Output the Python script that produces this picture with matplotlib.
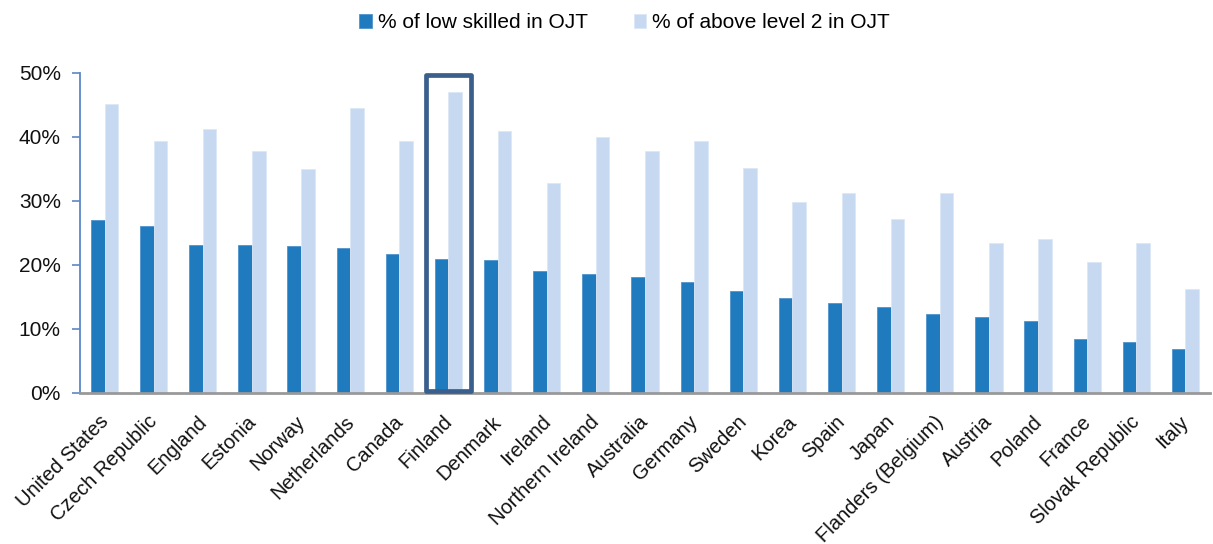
import numpy as np
import matplotlib.pyplot as plt
from matplotlib.patches import Rectangle
from matplotlib.ticker import PercentFormatter
from matplotlib.transforms import ScaledTranslation

plt.rcParams['font.family'] = ['Liberation Sans', 'DejaVu Sans']

countries = ["United States", "Czech Republic", "England", "Estonia", "Norway",
             "Netherlands", "Canada", "Finland", "Denmark", "Ireland",
             "Northern Ireland", "Australia", "Germany", "Sweden", "Korea",
             "Spain", "Japan", "Flanders (Belgium)", "Austria", "Poland",
             "France", "Slovak Republic", "Italy"]
low_skilled = [27.1, 26.1, 23.2, 23.2, 22.9, 22.6, 21.7, 20.9, 20.8, 19.1,
               18.6, 18.2, 17.4, 16.0, 14.9, 14.1, 13.5, 12.3, 11.8, 11.2,
               8.4, 7.9, 6.8]
above_level2 = [45.2, 39.4, 41.2, 37.8, 35.0, 44.6, 39.4, 47.0, 41.0, 32.8,
                40.0, 37.8, 39.3, 35.2, 29.8, 31.2, 27.2, 31.2, 23.5, 24.0,
                20.4, 23.5, 16.3]
highlight = "Finland"

dark = "#1f7bbe"
light = "#c6d9f0"

fig = plt.figure(figsize=(12.13, 5.44), dpi=100)
ax = fig.add_axes([80/1213, 1 - 393/544, 1130/1213, 320/544])

x = np.arange(len(countries))
w = 0.277
ax.bar(x - w/2, low_skilled, w, color=dark, edgecolor="#4f95cf", linewidth=0.6,
       label="% of low skilled in OJT")
ax.bar(x + w/2, above_level2, w, color=light, edgecolor="#dde8f6", linewidth=0.6,
       label="% of above level 2 in OJT")

i = countries.index(highlight)
ax.add_patch(Rectangle((i - 0.45, 0.25), 0.9, 49.45, fill=False,
                       edgecolor="#3b5f8c", linewidth=3.4, clip_on=False,
                       joinstyle="round", zorder=5))

ax.set_xlim(-0.5, len(countries) - 0.5)
ax.set_ylim(0, 50)
ax.set_yticks([0, 10, 20, 30, 40, 50])
ax.yaxis.set_major_formatter(PercentFormatter(decimals=0))
ax.tick_params(axis="y", direction="out", length=6, width=1.2, color="#5b87c8",
               labelsize=15, pad=7.8, labelcolor="#111111")
ax.set_xticks(x)
ax.set_xticklabels(countries, rotation=45, ha="right", rotation_mode="anchor",
                   fontsize=14.5, color="#111111")
ax.tick_params(axis="x", length=0, pad=8)
shift = ScaledTranslation(-6/100, -8/100, fig.dpi_scale_trans)
for lab in ax.get_xticklabels():
    lab.set_transform(lab.get_transform() + shift)

for s in ["top", "right"]:
    ax.spines[s].set_visible(False)
ax.spines["left"].set_color("#5b87c8")
ax.spines["left"].set_linewidth(1.3)
ax.spines["bottom"].set_color("#999999")
ax.spines["bottom"].set_linewidth(2)

fig.legend(loc="upper center", bbox_to_anchor=(0.515, 1.01), ncol=2, frameon=False,
           fontsize=15, handlelength=0.6, handleheight=0.6, handletextpad=0.3,
           columnspacing=2.2)

fig.savefig("out.png", dpi=100)
